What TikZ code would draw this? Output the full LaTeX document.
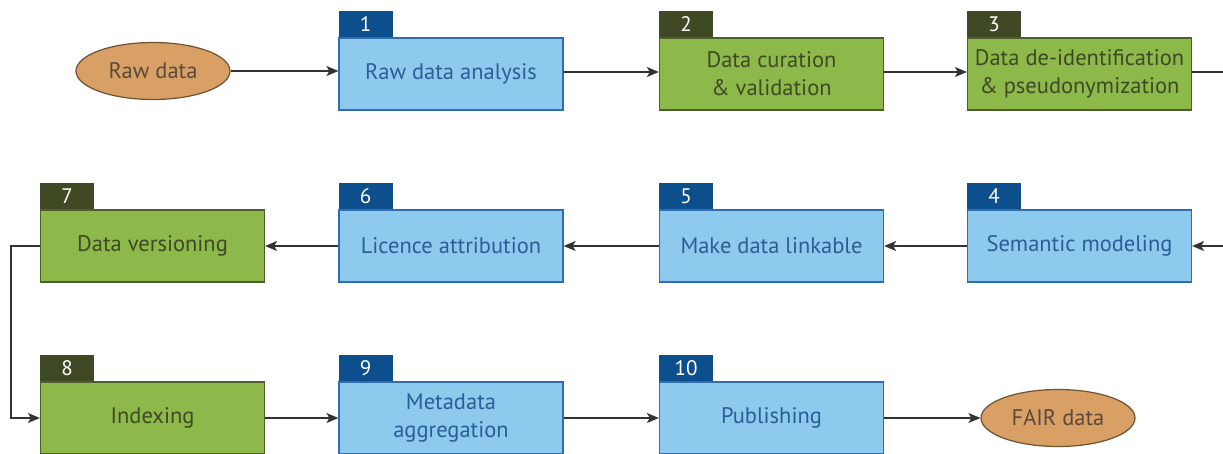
\documentclass[tikz,border=0pt]{standalone}
\usepackage{fontspec}
\setmainfont{PT Sans}
\usetikzlibrary{arrows.meta,shapes.geometric}
\definecolor{bfill}{HTML}{8EC9EE}
\definecolor{bline}{HTML}{2F6DAE}
\definecolor{btab}{HTML}{0D4E8D}
\definecolor{btext}{HTML}{2A5E96}
\definecolor{gfill}{HTML}{8DB84A}
\definecolor{gline}{HTML}{4C5F2C}
\definecolor{gtab}{HTML}{3F4A24}
\definecolor{gtext}{HTML}{3E4A26}
\definecolor{tfill}{HTML}{D9A066}
\definecolor{tline}{HTML}{6E5230}
\definecolor{ttext}{HTML}{5B4A3A}
\definecolor{conn}{HTML}{333333}
\tikzset{
  stepbox/.style={draw, line width=1.2pt, minimum width=224pt, minimum height=72pt,
    inner sep=0pt, align=center, font=\fontsize{22.5}{28}\selectfont},
  bbox/.style={stepbox, fill=bfill, draw=bline, text=btext},
  gbox/.style={stepbox, fill=gfill, draw=gline, text=gtext},
  numtab/.style={anchor=south west, minimum width=54pt, minimum height=26pt, inner sep=0pt,
    text=white, font=\fontsize{21}{22}\selectfont},
  btabst/.style={numtab, fill=btab},
  gtabst/.style={numtab, fill=gtab},
  blob/.style={ellipse, draw=tline, fill=tfill, line width=1.2pt, text=ttext,
    minimum width=154pt, minimum height=57pt, inner sep=0pt, font=\fontsize{22.5}{26}\selectfont},
  arr/.style={draw=conn, line width=1.4pt, -{Stealth[length=12pt, width=10pt, inset=3pt]}},
  ln/.style={draw=conn, line width=1.4pt}
}
\begin{document}
\begin{tikzpicture}[x=1pt, y=-1pt]
\clip (0,0) rectangle (1223,453);
\fill[white] (0,0) rectangle (1223,453);
% row 1
\node[blob] (raw) at (153,71) {Raw data};
\node[bbox] (b1) at (451,74) {Raw data analysis};
\node[gbox] (b2) at (771.5,74) {Data curation\\\& validation};
\node[gbox] (b3) at (1079.5,74) {Data de-identification\\\& pseudonymization};
% row 2
\node[bbox] (b4) at (1079.5,246) {Semantic modeling};
\node[bbox] (b5) at (771.5,246) {Make data linkable};
\node[bbox] (b6) at (451,246) {Licence attribution};
\node[gbox] (b7) at (152.5,246) {Data versioning};
% row 3
\node[gbox] (b8) at (152.5,418) {Indexing};
\node[bbox] (b9) at (451,418) {Metadata\\aggregation};
\node[bbox] (b10) at (771.5,418) {Publishing};
\node[blob] (fair) at (1058,418) {FAIR data};
% tabs
\node[btabst] (t1) at (b1.north west) {1};
\node[gtabst] (t2) at (b2.north west) {2};
\node[gtabst] (t3) at (b3.north west) {3};
\node[btabst] (t4) at (b4.north west) {4};
\node[btabst] (t5) at (b5.north west) {5};
\node[btabst] (t6) at (b6.north west) {6};
\node[gtabst] (t7) at (b7.north west) {7};
\node[gtabst] (t8) at (b8.north west) {8};
\node[btabst] (t9) at (b9.north west) {9};
\node[btabst] (t10) at (b10.north west) {10};
% connectors
\coordinate (r1) at (1245,72);
\coordinate (r2) at (1245,246);
\coordinate (l1) at (11,246);
\coordinate (l2) at (11,418);
\draw[arr] (raw.east) -- (b1.west |- raw.east);
\draw[arr] (b1.east |- 0,72) -- (b2.west |- 0,72);
\draw[arr] (b2.east |- 0,72) -- (b3.west |- 0,72);
\draw[arr] (b3.east |- r1) -- (r1) -- (r2) -- (b4.east);
\draw[arr] (b4.west) -- (b5.east);
\draw[arr] (b5.west) -- (b6.east);
\draw[arr] (b6.west) -- (b7.east);
\draw[arr] (b7.west) -- (l1) -- (l2) -- (b8.west);
\draw[arr] (b8.east) -- (b9.west);
\draw[arr] (b9.east) -- (b10.west);
\draw[arr] (b10.east) -- (fair.west);
\end{tikzpicture}
\end{document}
